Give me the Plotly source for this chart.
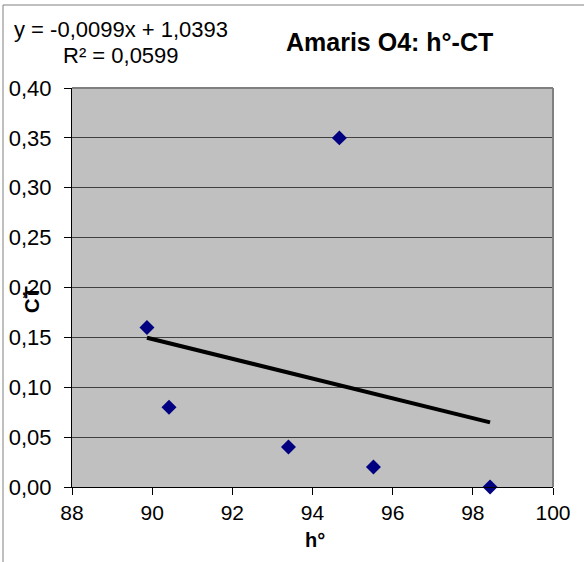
import numpy as np
import plotly.graph_objects as go

# Data
h_values = [89.87, 90.42, 93.4, 94.67, 95.52, 98.43]
ct_values = [0.16, 0.08, 0.04, 0.35, 0.02, 0.00]
trend_slope = -0.0099
trend_intercept = 1.0393
equation_text = "y = -0,0099x + 1,0393"
r2_text = "R² = 0,0599"
title_text = "Amaris O4: h°-CT"
x_title = "h°"
y_title = "CT"

FONT = "Liberation Sans, Arial, sans-serif"

trend_x = np.array([min(h_values), max(h_values)])
trend_y = trend_slope * trend_x + trend_intercept

fig = go.Figure()
fig.add_trace(go.Scatter(
    x=trend_x, y=trend_y, mode="lines",
    line=dict(color="black", width=4), hoverinfo="skip", showlegend=False,
))
fig.add_trace(go.Scatter(
    x=h_values, y=ct_values, mode="markers",
    marker=dict(symbol="diamond", size=11.5, color="#000080", line=dict(width=0)),
    showlegend=False, cliponaxis=False,
))

L, R, T, B = 72, 31, 88, 75
W, H = 584, 562
pw, ph = W - L - R, H - T - B

def px(x):
    return (x - L) / pw

def py(y):
    return (H - B - y) / ph

annotations = [
    dict(text=equation_text, x=px(121), y=py(30), xref="paper", yref="paper",
         showarrow=False, font=dict(size=22, color="black", family=FONT),
         xanchor="center", yanchor="middle"),
    dict(text=r2_text, x=px(121), y=py(55), xref="paper", yref="paper",
         showarrow=False, font=dict(size=22, color="black", family=FONT),
         xanchor="center", yanchor="middle"),
    dict(text="<b>" + title_text + "</b>", x=px(389), y=py(42), xref="paper", yref="paper",
         showarrow=False, font=dict(size=25, color="black", family=FONT),
         xanchor="center", yanchor="middle"),
    dict(text="<b>" + x_title + "</b>", x=px(315), y=py(540), xref="paper", yref="paper",
         showarrow=False, font=dict(size=20, color="black", family=FONT),
         xanchor="center", yanchor="middle"),
    dict(text="<b>" + y_title + "</b>", x=px(32), y=py(300), xref="paper", yref="paper",
         showarrow=False, textangle=-90, font=dict(size=20, color="black", family=FONT),
         xanchor="center", yanchor="middle"),
]

shapes = [
    # chart area border (top and left visible)
    dict(type="line", xref="paper", yref="paper", x0=px(3), x1=px(W + 10), y0=py(5), y1=py(5),
         line=dict(color="#808080", width=1)),
    dict(type="line", xref="paper", yref="paper", x0=px(3), x1=px(3), y0=py(5), y1=py(H + 10),
         line=dict(color="#808080", width=1)),
    # plot area border top and right
    dict(type="line", xref="paper", yref="paper", x0=0, x1=1, y0=1, y1=1,
         line=dict(color="#808080", width=2)),
    dict(type="line", xref="paper", yref="paper", x0=1, x1=1, y0=0, y1=1,
         line=dict(color="#808080", width=2)),
]

fig.update_layout(
    width=W, height=H,
    margin=dict(l=L, r=R, t=T, b=B, autoexpand=False),
    paper_bgcolor="white",
    plot_bgcolor="#c0c0c0",
    separators=", ",
    font=dict(family=FONT, size=22, color="black"),
    annotations=annotations,
    shapes=shapes,
    xaxis=dict(
        range=[88, 100], dtick=2, tick0=88, showgrid=False, zeroline=False,
        showline=True, linecolor="black", linewidth=1, automargin=False,
        ticks="outside", ticklen=7, tickcolor="black",
        tickfont=dict(size=21, family=FONT, color="black"),
    ),
    yaxis=dict(
        range=[0, 0.4], dtick=0.05, tick0=0, tickformat=".2f",
        showgrid=True, gridcolor="#404040", gridwidth=1, zeroline=False,
        showline=True, linecolor="black", linewidth=1, automargin=False,
        ticks="outside", ticklen=7, tickcolor="black", ticklabelstandoff=8,
        tickfont=dict(size=22, family=FONT, color="black"),
    ),
)

fig.write_html(
    "out.html",
    config={"displayModeBar": False},
    post_script="document.body.style.margin='0';document.body.style.overflow='hidden';",
)
